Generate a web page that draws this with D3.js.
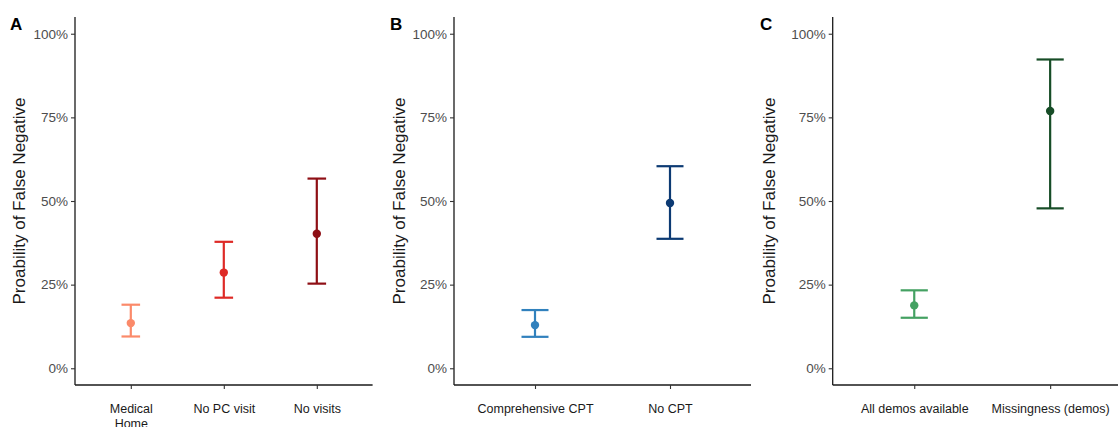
<!DOCTYPE html>
<meta charset="utf-8">
<style>
  body { margin: 0; background: #fff; }
  text { font-family: "Liberation Sans", Arial, Helvetica, sans-serif; }
</style>
<body>
<script src="https://cdn.jsdelivr.net/npm/d3@7"></script>
<script>

    var width = 1118,
        height = 427;

    // panel A - visit type
    var catsA = ["Medical\nHome", "No PC visit", "No visits"];
    var estA  = [0.135, 0.286, 0.402];
    var lowA  = [0.095, 0.211, 0.253];
    var highA = [0.190, 0.378, 0.567];

    // panel B - CPT
    var catsB = ["Comprehensive CPT", "No CPT"];
    var estB  = [0.129, 0.494];
    var lowB  = [0.094, 0.387];
    var highB = [0.174, 0.604];

    // panel C - demographics
    var catsC = ["All demos available", "Missingness (demos)"];
    var estC  = [0.188, 0.769];
    var lowC  = [0.151, 0.478];
    var highC = [0.233, 0.923];

    var yTicks = [0, 0.25, 0.5, 0.75, 1];

    var svg = d3.select("body").append("svg")
            .attr("width", width)
            .attr("height", height);

    var y = d3.scaleLinear()
            .domain([-0.05, 1.05])
            .range([385, 17]);

    var panels = [
        {letter: "A", cats: catsA, est: estA, low: lowA, high: highA,
         colors: ["#fb8a6a", "#de2a26", "#8e0f15"], x0: 75, x1: 372.6, left: 0},
        {letter: "B", cats: catsB, est: estB, low: lowB, high: highB,
         colors: ["#3181bd", "#0c3a73"], x0: 454, x1: 751, left: 380},
        {letter: "C", cats: catsC, est: estC, low: lowC, high: highC,
         colors: ["#44a162", "#174d27"], x0: 832.7, x1: 1131.7, left: 750}
    ];

    panels.forEach(drawPanel);

    function drawPanel(p) {
        var g = svg.append("g");

        var x = d3.scalePoint()
                .domain(p.cats)
                .range([p.x0, p.x1])
                .padding(0.6);
        var capW = 0.2 * x.step();

        // y axis
        var yAxis = g.append("g")
                .attr("transform", "translate(" + p.x0 + ",0)")
                .call(d3.axisLeft(y).tickValues(yTicks).tickFormat(d3.format(".0%")).tickSize(4).tickPadding(3));
        yAxis.select(".domain").attr("d", "M0," + y.range()[1] + "V" + y.range()[0]);

        // x axis
        var xAxis = g.append("g")
                .attr("transform", "translate(0," + y.range()[0] + ")")
                .call(d3.axisBottom(x).tickSize(4).tickPadding(15).tickFormat(""));
        xAxis.select(".domain").attr("d", "M" + p.x0 + ",0H" + p.x1);

        g.selectAll(".domain").attr("stroke", "#1a1a1a").attr("stroke-width", 1.3);
        g.selectAll(".tick line").attr("stroke", "#333").attr("stroke-width", 1.1);
        yAxis.selectAll("text").attr("fill", "#4d4d4d").style("font-size", "13.5px");

        // x labels, may wrap
        xAxis.selectAll(".tick").each(function(d) {
            var t = d3.select(this).append("text")
                    .attr("fill", "#1a1a1a")
                    .attr("text-anchor", "middle")
                    .style("font-size", "12.5px");
            d.split("\n").forEach(function(line, i) {
                t.append("tspan").attr("x", 0).attr("y", 28 + i * 15).text(line);
            });
        });

        // y title
        g.append("text")
                .attr("transform", "translate(" + (p.left + 24.5) + "," + ((y(0) + y(1)) / 2) + ") rotate(-90)")
                .attr("text-anchor", "middle")
                .attr("fill", "#1a1a1a")
                .style("font-size", "17px")
                .text("Proability of False Negative");

        // panel letter
        g.append("text")
                .attr("x", p.left + 10)
                .attr("y", 30)
                .style("font-size", "17px")
                .style("font-weight", "bold")
                .attr("fill", "#000")
                .text(p.letter);

        // error bars and points
        p.cats.forEach(function(c, i) {
            var cx = x(c), col = p.colors[i];
            g.append("line")
                    .attr("x1", cx).attr("x2", cx)
                    .attr("y1", y(p.low[i])).attr("y2", y(p.high[i]))
                    .attr("stroke", col).attr("stroke-width", 2.2);
            [p.low[i], p.high[i]].forEach(function(v) {
                g.append("line")
                        .attr("x1", cx - capW / 2).attr("x2", cx + capW / 2)
                        .attr("y1", y(v)).attr("y2", y(v))
                        .attr("stroke", col).attr("stroke-width", 2.2);
            });
            g.append("circle")
                    .attr("cx", cx).attr("cy", y(p.est[i]))
                    .attr("r", 4.2)
                    .attr("fill", col);
        });
    }

</script>
